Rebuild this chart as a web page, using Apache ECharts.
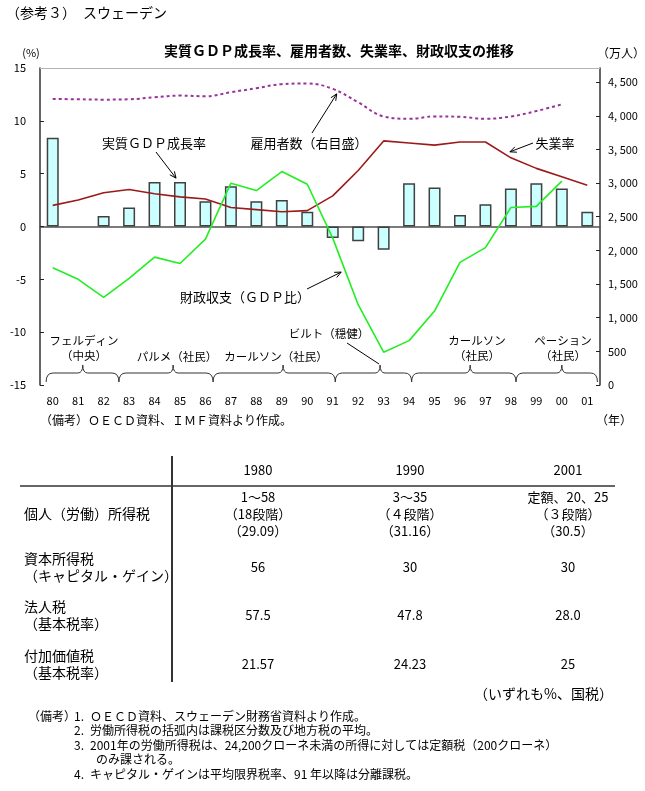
<!DOCTYPE html>
<html>
<head>
<meta charset="utf-8">
<title>スウェーデン</title>
<script src="https://cdn.jsdelivr.net/npm/echarts@6/dist/echarts.min.js"></script>
<style>
  html, body { margin: 0; padding: 0; background: #fff; }
  #main { width: 645px; height: 791px; }
</style>
</head>
<body>
<div id="main"></div>
<script>
// 年（80〜01）
var years = ['80', '81', '82', '83', '84', '85', '86', '87', '88', '89', '90',
             '91', '92', '93', '94', '95', '96', '97', '98', '99', '00', '01'];
// 実質GDP成長率（%）
var gdpGrowth = [8.4, null, 1.0, 1.8, 4.2, 4.2, 2.4, 3.8, 2.4, 2.5, 1.4,
                 -1.1, -1.4, -2.2, 4.1, 3.7, 1.1, 2.1, 3.6, 4.1, 3.6, 1.4];
// 失業率（%）
var unemployment = [2.0, 2.5, 3.2, 3.5, 3.1, 2.8, 2.6, 1.8, 1.6, 1.4, 1.5,
                    2.9, 5.3, 8.1, 7.9, 7.7, 8.0, 8.0, 6.5, 5.5, 4.7, 3.9];
// 財政収支（GDP比、%）
var fiscalBalance = [-3.9, -5.0, -6.7, -4.9, -2.9, -3.5, -1.2, 4.1, 3.4, 5.2, 4.0,
                     -1.1, -7.4, -11.9, -10.8, -8.0, -3.4, -2.0, 1.8, 1.9, 4.3, null];
// 雇用者数（右目盛）
var employment = [4250, 4245, 4240, 4245, 4275, 4300, 4290, 4350, 4410, 4470, 4480,
                  4400, 4200, 3990, 3955, 3990, 3985, 3955, 3990, 4070, 4170, null];

// 政権（ラベル）
var cabinets = [['フェルディン', '（中央）'], ['パルメ（社民）'], ['カールソン（社民）'],
                ['ビルト（穏健）'], ['カールソン', '（社民）'], ['ペーション', '（社民）']];

// 税制表
var taxYears = ['1980', '1990', '2001'];
var taxNames = [['個人（労働）所得税'], ['資本所得税', '（キャピタル・ゲイン）'],
                ['法人税', '（基本税率）'], ['付加価値税', '（基本税率）']];
var taxRates = [
  [['1～58', '（18段階）', '（29.09）'], ['3～35', '（４段階）', '（31.16）'], ['定額、20、25', '（３段階）', '（30.5）']],
  [['56'], ['30'], ['30']],
  [['57.5'], ['47.8'], ['28.0']],
  [['21.57'], ['24.23'], ['25']]
];
var notes = [
  ['1.', 'ＯＥＣＤ資料、スウェーデン財務省資料より作成。'],
  ['2.', '労働所得税の括弧内は課税区分数及び地方税の平均。'],
  ['3.', '2001年の労働所得税は、24,200クローネ未満の所得に対しては定額税（200クローネ）'],
  ['', 'のみ課される。'],
  ['4.', 'キャピタル・ゲインは平均限界税率、91 年以降は分離課税。']
];

var FONT = '"Noto Sans CJK JP", sans-serif';

var myChart = echarts.init(document.getElementById('main'));

function fmtRight(v) {
  if (v % 500 !== 0) return '';
  if (v >= 1000) return Math.floor(v / 1000) + ', ' + String(v % 1000).padStart(3, '0');
  return String(v);
}

var option = {
  animation: false,
  backgroundColor: '#fff',
  grid: { left: 40, right: 45, top: 68, bottom: 406 },
  xAxis: {
    type: 'category',
    data: years,
    axisLine: { onZero: true, lineStyle: { color: '#505050', width: 1.5 } },
    axisTick: { inside: true, length: 4, lineStyle: { color: '#222' } },
    axisLabel: { margin: 10, color: '#000', fontSize: 11, fontFamily: FONT }
  },
  yAxis: [{
    type: 'value', min: -15, max: 15, interval: 5,
    axisLine: { show: true, lineStyle: { color: '#333', width: 1.5 } },
    axisTick: { show: true, inside: true, length: 4, lineStyle: { color: '#222' } },
    axisLabel: { margin: 14, color: '#000', fontSize: 11, fontFamily: FONT },
    splitLine: { show: false }
  }, {
    type: 'value', min: 0, max: 4710, interval: 500, position: 'right',
    axisLine: { show: true, lineStyle: { color: '#333', width: 1.5 } },
    axisTick: { show: true, inside: true, length: 4, lineStyle: { color: '#222' } },
    axisLabel: { margin: 8, color: '#000', fontSize: 11, fontFamily: FONT,
                 showMaxLabel: false, formatter: fmtRight },
    splitLine: { show: false }
  }],
  series: [{
    name: '実質ＧＤＰ成長率', type: 'bar', data: gdpGrowth, barWidth: 12,
    itemStyle: { color: '#ccffff', borderColor: '#404040', borderWidth: 1.5 },
    markLine: {
      silent: true, symbol: 'none', label: { show: false },
      lineStyle: { color: '#b4b4b4', width: 1, type: 'solid' },
      data: [{ yAxis: 15 }]
    }
  }, {
    name: '失業率', type: 'line', data: unemployment, symbol: 'none',
    lineStyle: { color: '#9b1b1b', width: 1.6 }
  }, {
    name: '財政収支', type: 'line', data: fiscalBalance, symbol: 'none',
    lineStyle: { color: '#22ee22', width: 1.6 }
  }, {
    name: '雇用者数', type: 'line', yAxisIndex: 1, data: employment, symbol: 'none',
    smooth: 0.4,
    lineStyle: { color: '#993399', width: 2, type: [3, 3] }
  }]
};
myChart.setOption(option);

// ---- annotations, anchored to the axes ----
var x0 = myChart.convertToPixel({ xAxisIndex: 0 }, 0);
var band = myChart.convertToPixel({ xAxisIndex: 0 }, 1) - x0;
function xAt(t) { return x0 + t * band; }
function yL(v) { return myChart.convertToPixel({ yAxisIndex: 0 }, v); }
function yR(v) { return myChart.convertToPixel({ yAxisIndex: 1 }, v); }

var g = [];
function text(s, x, y, size, align, weight) {
  g.push({ type: 'text', silent: true, style: {
    text: s, x: x, y: y, fill: '#000', align: align || 'left', verticalAlign: 'middle',
    font: (weight || 'normal') + ' ' + size + 'px ' + FONT } });
}
function line(x1, y1, x2, y2, w, c) {
  g.push({ type: 'line', silent: true, shape: { x1: x1, y1: y1, x2: x2, y2: y2 },
    style: { stroke: c || '#000', lineWidth: w || 1 } });
}
function curve(x1, y1, cx, cy, x2, y2) {
  g.push({ type: 'bezierCurve', silent: true,
    shape: { x1: x1, y1: y1, cpx1: cx, cpy1: cy, x2: x2, y2: y2 },
    style: { stroke: '#333', lineWidth: 1, fill: null } });
}
function arrow(x1, y1, x2, y2) {
  line(x1, y1, x2, y2, 1);
  var a = Math.atan2(y2 - y1, x2 - x1), L = 7, s = 0.42;
  g.push({ type: 'polyline', silent: true, shape: { points: [
    [x2 - L * Math.cos(a - s), y2 - L * Math.sin(a - s)], [x2, y2],
    [x2 - L * Math.cos(a + s), y2 - L * Math.sin(a + s)] ] },
    style: { stroke: '#000', lineWidth: 1, fill: null } });
}

// headings
text('（参考３）　スウェーデン', 6, 13, 14);
text('実質ＧＤＰ成長率、雇用者数、失業率、財政収支の推移', 339, 51, 14, 'center', 'bold');
text('(%)', 31, 53, 11, 'center');
text('（万人）', 621, 53, 12, 'center');
text('（備考）ＯＥＣＤ資料、ＩＭＦ資料より作成。', 40, 420, 12);
text('（年）', 614, 420, 12, 'center');

// series labels with arrows
text('実質ＧＤＰ成長率', 154, 143, 13, 'center');
arrow(156, 152, xAt(5) - 4, yL(gdpGrowth[5]) - 4);
text('雇用者数（右目盛）', 309, 143, 13, 'center');
arrow(312, 133, xAt(11) + 4, yR(employment[11]) + 5);
text('失業率', 555, 143, 13, 'center');
arrow(533, 143, xAt(18) - 1, yL(unemployment[18]) - 6);
text('財政収支（ＧＤＰ比）', 245, 297, 13, 'center');
var tF = 0.45;
arrow(307, 289, xAt(11 + tF) - 3, yL(fiscalBalance[11] + tF * (fiscalBalance[12] - fiscalBalance[11])) + 4);

// cabinet braces (edges / peaks in year index units)
var termEdges = [-0.26, 2.6, 6.3, 11.1, 14.1, 18.2, 21.4];
var termPeaks = [1.18, 4.73, 9.05, 12.86, 16.4, 20.0];
var yB = 382, yM = 373, yT = 365;
for (var i = 0; i < termPeaks.length; i++) {
  var a = xAt(termEdges[i]), b = xAt(termEdges[i + 1]), p = xAt(termPeaks[i]);
  curve(a, yB, a, yM, a + 7, yM);
  line(a + 7, yM, p - 5, yM, 1, '#333');
  curve(p - 5, yM, p, yM, p, yT);
  curve(p, yT, p, yM, p + 5, yM);
  line(p + 5, yM, b - 7, yM, 1, '#333');
  curve(b - 7, yM, b, yM, b, yB);
}
var cabX = [84, 177, 276, 329, 477, 563];
var cabY = [341, 357, 357, 334, 341, 341];
cabinets.forEach(function (c, k) {
  c.forEach(function (s, j) { text(s, cabX[k], cabY[k] + j * 15, 11.5, 'center'); });
});
line(347, 343, xAt(termPeaks[3]) - 1, yT - 1, 1);

// tax table
var colX = [258, 410, 568];
line(20, 486, 615, 486, 1.5, '#333');
line(172, 456, 172, 682, 2, '#333');
taxYears.forEach(function (y, k) { text(y, colX[k], 470, 13, 'center'); });
var rowY = [514, 567, 615, 664];
taxNames.forEach(function (n, r) {
  var top = rowY[r] - (n.length - 1) * 8.5;
  n.forEach(function (s, j) { text(s, 24, top + j * 17, 14); });
  taxRates[r].forEach(function (cell, k) {
    var t = rowY[r] - (cell.length - 1) * 8.5;
    cell.forEach(function (s, j) { text(s, colX[k], t + j * 17, 13, 'center'); });
  });
});
text('（いずれも%、国税）', 613, 694, 14, 'right');
text('（備考）', 28, 716, 12);
notes.forEach(function (nt, k) {
  if (nt[0]) text(nt[0], 74, 716 + k * 14.5, 12);
  text(nt[1], nt[0] ? 90 : 96, 716 + k * 14.5, 12);
});

myChart.setOption({ graphic: { elements: g } });
</script>
</body>
</html>
